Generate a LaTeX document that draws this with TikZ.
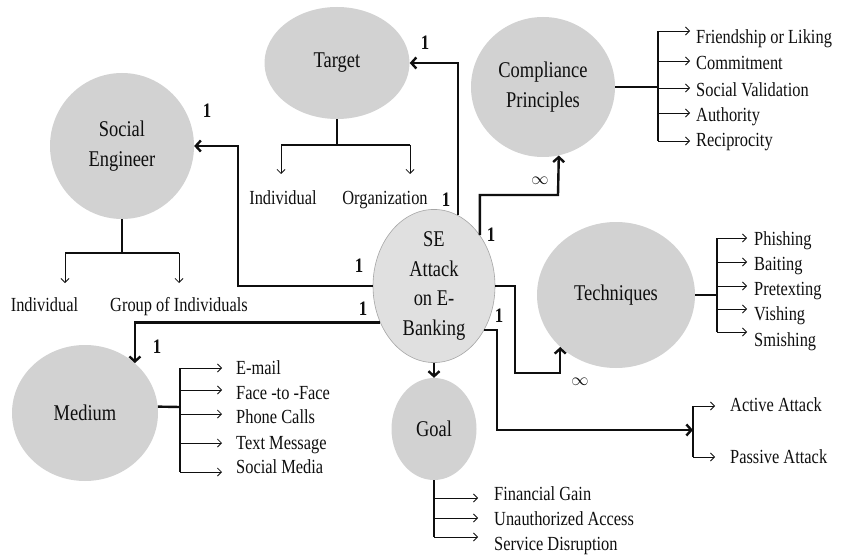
\documentclass[tikz,border=0pt]{standalone}
\usepackage{fontspec}
\setmainfont{Liberation Serif}[FakeStretch=0.82]
\usetikzlibrary{arrows.meta,shapes.geometric}
\definecolor{bubble}{RGB}{210,210,210}
\definecolor{hub}{RGB}{224,224,224}
\definecolor{ink}{RGB}{15,15,15}

\begin{document}
\begin{tikzpicture}[x=1pt,y=-1pt,
  bubble/.style={ellipse, fill=bubble, inner sep=0pt, align=center,
    font=\fontsize{22.5}{29.5}\selectfont, text=ink},
  main/.style={line width=2.4pt, draw=ink, -{Straight Barb[length=5pt,width=11pt]}},
  wire/.style={line width=2.4pt, draw=ink},
  bar/.style={line width=1.6pt, draw=ink},
  twig/.style={line width=0.8pt, draw=ink, -{Straight Barb[length=4pt,width=8pt]}},
  item/.style={inner sep=0pt, font=\fontsize{20}{22}\selectfont, text=ink},
  card/.style={inner sep=0pt, font=\fontsize{20.5}{22}\selectfont\bfseries, text=ink},
  inf/.style={inner sep=0pt, font=\fontsize{17}{18}\selectfont, text=ink},
]
\useasboundingbox (0,0) rectangle (841,559);
\fill[white] (0,0) rectangle (841,559);

% entities
\node[bubble, minimum width=144, minimum height=146] (se) at (122,146) {Social\\Engineer};
\node[bubble, minimum width=145, minimum height=112] (tg) at (337,63) {Target};
\node[bubble, minimum width=144, minimum height=140] (cp) at (543,87) {Compliance\\Principles};
\node[bubble, fill=hub, draw=gray!70, line width=0.6pt, minimum width=122, minimum height=136] (att) at (434,286) {SE\\Attack\\on E-\\Banking};
\node[bubble, minimum width=158, minimum height=146] (tq) at (616,295) {Techniques};
\node[bubble, minimum width=146, minimum height=136] (md) at (85,413) {Medium};
\node[bubble, minimum width=85, minimum height=102] (gl) at (434,429) {Goal};

% relations from the attack hub
\draw[main] (att.71) |- (tg.east);
\draw[main] (att.west) -| (238,146) -- (se.east);
\draw[main] (att.214.7) -| (md.45.6);
\draw[main] (att.48.7) |- (558,195) -- (cp.-77.6);
\draw[main] (att.east) -| (515,373) -| (tq.223.6);
\coordinate (ty) at (693,430);
\draw[main] (att.-41.2) -| (497,430) -- (ty);
\draw[main] (att.south) -- (gl.north);

% cardinalities
\node[card] (c1) at (425,43) {1};
\node[card] (c2) at (446,200) {1};
\node[card] (c3) at (207,111) {1};
\node[card] (c4) at (359,266) {1};
\node[card] (c5) at (363,309) {1};
\node[card] (c6) at (157,347) {1};
\node[card] (c7) at (491,235) {1};
\node[card] (c8) at (499,316) {1};
\node[inf] (m1) at (540,181) {$\infty$};
\node[inf] (m2) at (580,382) {$\infty$};

% social engineer kinds
\draw[wire] (se.south) -- (122,253);
\draw[bar] (65,253) -- (179,253);
\draw[twig] (65,253) -- (65,283);
\draw[twig] (179,253) -- (179,283);
\node[item, anchor=base] (se1) at (44.5,311) {Individual};
\node[item, anchor=base] (se2) at (179,311) {Group of Individuals};

% target kinds
\draw[wire] (tg.south) -- (337,145);
\draw[bar] (281,145) -- (410,145);
\draw[twig] (281,145) -- (281,174);
\draw[twig] (410,145) -- (410,174);
\node[item, anchor=base] (tg1) at (283,204.5) {Individual};
\node[item, anchor=base] (tg2) at (385,204.5) {Organization};

% compliance principles
\draw[wire] (cp.east) -- (658,87);
\draw[bar] (658,31) -- (658,141);
\foreach \t/\b/\a [count=\i] in {Friendship or Liking/43.5/31, Commitment/69.5/61,
    Social Validation/96.5/88, Authority/121.5/113, Reciprocity/146.5/141}{
  \node[item, anchor=base west] (cpi\i) at (696,\b) {\t};
  \draw[twig] (658,\a) -- (690,\a);
}

% techniques
\draw[wire] (tq.east) -- (717,295);
\draw[bar] (717,238) -- (717,332);
\foreach \t/\b/\a [count=\i] in {Phishing/245.5/238, Baiting/270.5/262, Pretexting/295.5/286,
    Vishing/320.5/309, Smishing/346.5/332}{
  \node[item, anchor=base west] (tqi\i) at (754,\b) {\t};
  \draw[twig] (717,\a) -- (747,\a);
}

% media
\draw[wire] (md.5) -- (180,407);
\draw[bar] (180,368) -- (180,472);
\foreach \t/\b/\a [count=\i] in {E-mail/374.5/368, Face -to -Face/399.5/390, Phone Calls/423.5/414,
    Text Message/449.5/443, Social Media/473.5/472}{
  \node[item, anchor=base west] (mdi\i) at (236,\b) {\t};
  \draw[twig] (180,\a) -- (222,\a);
}

% goals
\draw[bar] (gl.south) -- (434,537);
\foreach \t/\b/\a [count=\i] in {Financial Gain/500.5/498, Unauthorized Access/525.5/518,
    Service Disruption/550.5/537}{
  \node[item, anchor=base west] (gli\i) at (494,\b) {\t};
  \draw[twig] (434,\a) -- (478,\a);
}

% attack types
\draw[bar] (693,406) -- (693,457);
\draw[twig] (693,406) -- (715,406);
\draw[twig] (693,457) -- (715,457);
\node[item, anchor=base west] (ty1) at (730,411.5) {Active Attack};
\node[item, anchor=base west] (ty2) at (730,463.5) {Passive Attack};
\end{tikzpicture}
\end{document}
